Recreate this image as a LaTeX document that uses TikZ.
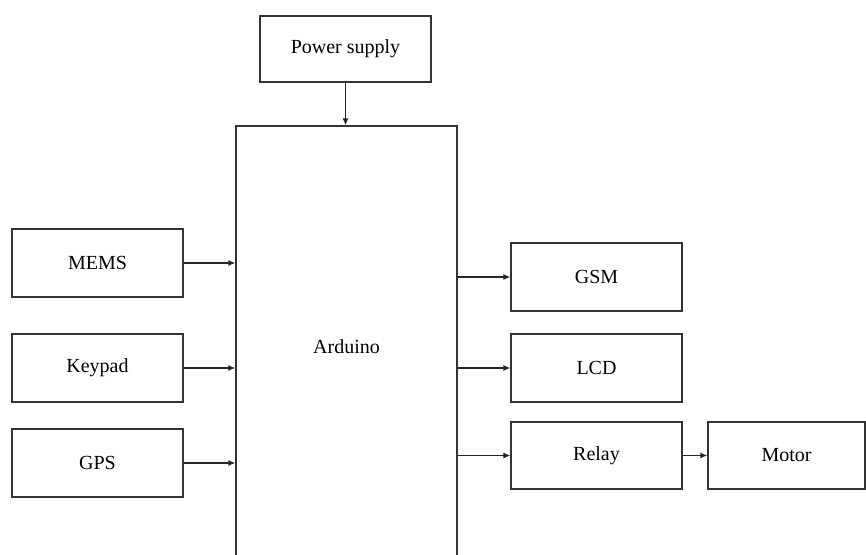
\documentclass[tikz,border=0pt]{standalone}
\usepackage{fontspec}
\setmainfont{Liberation Serif}
\usetikzlibrary{arrows.meta, positioning, calc}

\begin{document}
\begin{tikzpicture}[x=1pt, y=-1pt,
    block/.style={draw=black!80, line width=1.3pt, fill=white, inner sep=0pt,
        minimum width=171pt, minimum height=68pt, font=\fontsize{20}{23}\selectfont},
    arr/.style={-{Latex[length=7pt, width=6pt]}, draw=black!85, line width=1.2pt}]
    \useasboundingbox (0,0) rectangle (866,554);
    \clip (0,0) rectangle (866,554);

    % Controller (runs past the bottom edge)
    \node[block, minimum width=221pt, minimum height=442pt] (ard) at (346.5,347) {Arduino};
    \node[block, minimum height=66pt] (power) at (345.5,49) {Power supply};

    % Inputs
    \node[block] (mems) at (97.5,263) {MEMS};
    \node[block] (keypad) at (97.5,368) {Keypad};
    \node[block] (gps) at (97.5,463) {GPS};

    % Outputs
    \node[block] (gsm) at (596.5,277) {GSM};
    \node[block] (lcd) at (596.5,368) {LCD};
    \node[block, minimum height=67pt] (relay) at (596.5,455.5) {Relay};
    \node[block, minimum width=157pt, minimum height=67pt] (motor) at (786.5,455.5) {Motor};

    % Connections
    \draw[arr] (power.south) -- (power.south |- ard.north);
    \foreach \n in {mems, keypad, gps}
        \draw[arr] (\n.east) -- (\n.east -| ard.west);
    \foreach \n in {gsm, lcd, relay}
        \draw[arr] (\n.west -| ard.east) -- (\n.west);
    \draw[arr] (relay.east) -- (motor.west);
\end{tikzpicture}
\end{document}
